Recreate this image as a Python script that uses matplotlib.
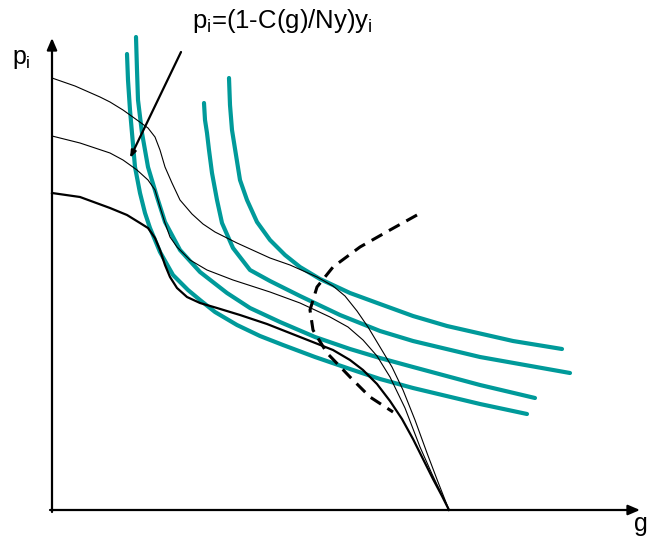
import matplotlib
matplotlib.use("Agg")
import matplotlib.pyplot as plt

# Schematic, in pixel units (x right, y down).
ORIGIN = (52, 510)
X_END = 640
Y_END = 38

# price curves p_i(g) for three incomes (thin, thin, thick); all meet the g axis at 449
top_x = [52, 75, 100, 110, 123, 137, 148, 155, 160, 165, 172, 180, 192, 203, 215, 237, 270, 290,
         317, 333, 345, 357, 368, 380, 392, 403, 415, 427, 438, 449]
top_y = [78, 86, 97, 102, 110, 120, 128, 137, 150, 167, 183, 200, 214, 224, 232, 243, 258, 265,
         277, 286, 296, 311, 327, 347, 367, 390, 420, 453, 482, 510]
mid_x = [52, 80, 110, 123, 137, 148, 155, 160, 165, 170, 177, 190, 207, 233, 270, 300, 330, 348,
         363, 377, 390, 405, 420, 432, 442, 449]
mid_y = [136, 143, 153, 160, 170, 180, 190, 207, 223, 237, 247, 260, 270, 280, 292, 303, 317, 327,
         340, 356, 377, 408, 447, 474, 495, 510]
low_x = [52, 80, 110, 127, 140, 148, 155, 160, 165, 170, 177, 187, 200, 217, 240, 267, 300, 333,
         350, 363, 377, 390, 402, 413, 423, 433, 442, 449]
low_y = [193, 197, 208, 215, 223, 228, 238, 250, 265, 277, 288, 297, 303, 308, 315, 324, 337, 350,
         360, 370, 384, 401, 419, 439, 459, 479, 496, 510]

# indifference curves
ic_a_x = [127, 128, 130, 132, 135, 140, 145, 150, 160, 173, 188, 200, 215, 237, 260, 283, 315,
          350, 380, 413, 480, 527]
ic_a_y = [54, 80, 110, 133, 167, 193, 213, 228, 252, 275, 290, 300, 312, 325, 336, 345, 357,
          369, 379, 388, 404, 414]
ic_b_x = [136, 137, 138, 142, 148, 157, 165, 180, 200, 227, 250, 280, 315, 350, 380, 413, 480, 535]
ic_b_y = [37, 70, 100, 133, 167, 197, 222, 250, 272, 293, 308, 322, 337, 349, 358, 367, 385, 398]
ic_c_x = [204, 205, 207, 209, 212, 217, 222, 233, 250, 270, 300, 340, 380, 413, 480, 570]
ic_c_y = [103, 120, 133, 150, 173, 200, 223, 248, 270, 281, 296, 315, 331, 341, 357, 373]
ic_d_x = [229, 230, 232, 236, 240, 247, 257, 270, 285, 300, 320, 350, 380, 413, 447, 513, 562]
ic_d_y = [78, 105, 130, 155, 180, 200, 222, 240, 255, 267, 279, 293, 304, 316, 326, 341, 349]

# dashed locus of optima
locus_x = [417, 390, 360, 333, 317, 310, 313, 327, 350, 370, 393]
locus_y = [215, 230, 247, 267, 287, 310, 330, 353, 377, 397, 412]

TEAL = "#009a9a"

plt.rcParams["font.family"] = ["Liberation Sans", "DejaVu Sans"]
plt.rcParams["mathtext.fontset"] = "custom"
plt.rcParams["mathtext.rm"] = "Liberation Sans"
plt.rcParams["mathtext.it"] = "Liberation Sans"

fig = plt.figure(figsize=(6.5, 5.4), dpi=100)
ax = fig.add_axes([0, 0, 1, 1])
ax.set_xlim(0, 650)
ax.set_ylim(540, 0)
ax.axis("off")

# axes with arrow heads
arrow = dict(arrowstyle="-|>,head_length=0.7,head_width=0.3", color="black", lw=1.6,
             shrinkA=0, shrinkB=0)
ax.annotate("", xy=(X_END, ORIGIN[1]), xytext=(ORIGIN[0] - 2, ORIGIN[1]), arrowprops=arrow)
ax.annotate("", xy=(ORIGIN[0], Y_END), xytext=(ORIGIN[0], ORIGIN[1] + 2), arrowprops=arrow)

for xs, ys in [(ic_a_x, ic_a_y), (ic_b_x, ic_b_y), (ic_c_x, ic_c_y), (ic_d_x, ic_d_y)]:
    ax.plot(xs, ys, color=TEAL, lw=3.0, solid_capstyle="round", solid_joinstyle="round")

ax.plot(top_x, top_y, color="black", lw=0.8, solid_joinstyle="round")
ax.plot(mid_x, mid_y, color="black", lw=0.8, solid_joinstyle="round")
ax.plot(low_x, low_y, color="black", lw=1.6, solid_joinstyle="round")
ax.plot(locus_x, locus_y, color="black", lw=2.2, dashes=(4, 2.5))

ax.text(12, 64, r"$p_i$", fontsize=18, ha="left", va="baseline")
ax.text(634, 531, "g", fontsize=18, ha="left", va="baseline")
ax.text(192, 28, r"$p_i\text{=(1-C(g)/Ny)}y_i$", fontsize=18.5, ha="left", va="baseline")
ax.annotate("", xy=(130, 158), xytext=(181, 52),
            arrowprops=dict(arrowstyle="-|>,head_length=0.4,head_width=0.15",
                            color="black", lw=1.6, shrinkA=0, shrinkB=0))

fig.savefig("out.png", dpi=100)
